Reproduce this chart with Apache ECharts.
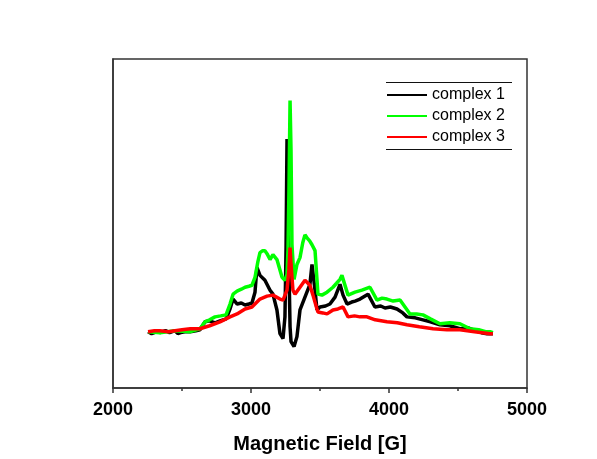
<!DOCTYPE html>
<html>
<head>
<meta charset="utf-8">
<script src="https://cdn.jsdelivr.net/npm/echarts@6/dist/echarts.min.js"></script>
<style>html,body{margin:0;padding:0;background:#fff;}#c{width:597px;height:459px;}</style>
</head>
<body>
<div id="c"></div>
<script>
const seriesNames = ['complex 1', 'complex 2', 'complex 3'];
const seriesColors = ['#000000', '#00ff00', '#ff0000'];
const xTicks = [2000, 3000, 4000, 5000];

// complex 1 (black): field [G], intensity [a.u.]
const field1 = [2254,2280,2300,2320,2340,2360,2380,2410,2450,2470,2490,2520,2560,2600,2630,2667,2700,2740,2775,2820,2848,2870,2900,2930,2957,2985,3007,3029,3043,3065,3101,3138,3159,3188,3210,3232,3246,3254,3261,3268,3275,3283,3290,3312,3333,3355,3391,3427,3442,3464,3478,3500,3540,3572,3609,3645,3667,3696,3730,3754,3790,3848,3898,3940,3971,4010,4058,4100,4130,4190,4246,4300,4369,4440,4514,4570,4623,4670,4710,4753];
const int1   = [57,55,56,58,56,57,58,56,58,55,56,57,57,58,59,67,68,66,68,70,80,90,85,86,84,85,86,97,122,114,109,99,95,79,55,50,72,142,252,212,122,62,47,42,52,79,92,105,125,99,79,82,83,85,92,105,94,85,87,88,90,95,82,83,81,82,80,76,72,71,69,67,64,63,60,61,58,56,55,55];

// complex 2 (green)
const field2 = [2254,2340,2450,2560,2630,2667,2700,2739,2780,2819,2848,2870,2899,2930,2957,2985,3007,3029,3050,3065,3085,3101,3116,3138,3159,3188,3225,3246,3261,3268,3275,3283,3290,3297,3312,3333,3355,3375,3391,3406,3425,3442,3464,3478,3485,3514,3551,3594,3620,3645,3659,3703,3754,3804,3862,3913,3950,3985,4030,4080,4152,4200,4246,4300,4369,4440,4514,4587,4650,4700,4732,4753];
const int2   = [57,56,58,57,60,67,69,72,73,74,85,95,98,100,102,103,104,112,128,137,139,139,136,130,135,130,112,109,115,140,200,291,240,145,110,125,132,147,155,152,149,145,139,110,95,94,97,102,106,110,114,94,97,99,102,89,91,90,88,89,75,75,74,70,65,66,65,60,59,57,57,56];

// complex 3 (red)
const field3 = [2254,2300,2340,2400,2450,2500,2560,2630,2700,2775,2848,2899,2957,3007,3065,3116,3159,3210,3232,3261,3275,3283,3290,3304,3319,3355,3391,3427,3449,3478,3485,3520,3551,3594,3630,3667,3703,3750,3790,3840,3900,3985,4060,4130,4220,4319,4420,4514,4620,4732,4753];
const int3   = [57,58,58,57,58,59,60,60,63,67,72,75,80,82,90,93,94,90,89,99,120,142,125,99,95,102,109,104,94,80,77,76,75,79,80,82,72,73,72,72,69,67,66,64,62,60,59,59,57,55,55];

const fields = [field1, field2, field3];
const ints = [int1, int2, int3];

const chart = echarts.init(document.getElementById('c'));
const series = seriesNames.map((n, i) => ({
  name: n,
  type: 'line',
  symbol: 'none',
  data: fields[i].map((x, k) => [x, ints[i][k]]),
  lineStyle: { color: seriesColors[i], width: 3.5 },
  itemStyle: { color: seriesColors[i] },
  z: 2 + i
}));

chart.setOption({
  animation: false,
  backgroundColor: '#ffffff',
  grid: { left: 113, right: 70, top: 59, bottom: 67, show: true, borderColor: '#333', borderWidth: 1.5, backgroundColor: 'transparent' },
  xAxis: {
    type: 'value', min: xTicks[0], max: xTicks[xTicks.length - 1], interval: 1000,
    axisLine: { show: true, lineStyle: { color: '#333', width: 1.5 } },
    axisTick: { show: true, inside: false, length: 5, lineStyle: { color: '#333', width: 1.5 } },
    minorTick: { show: true, splitNumber: 2, length: 3, lineStyle: { color: '#333', width: 1.5 } },
    splitLine: { show: false },
    axisLabel: { color: '#000', fontSize: 18, fontWeight: 'bold', fontFamily: 'Arial, Liberation Sans', margin: 13,
      formatter: v => String(v) },
    name: 'Magnetic Field [G]', nameLocation: 'middle', nameGap: 46,
    nameTextStyle: { color: '#000', fontSize: 20, fontWeight: 'bold', fontFamily: 'Arial, Liberation Sans' }
  },
  yAxis: {
    type: 'value', min: 0, max: 333,
    axisLine: { show: true, lineStyle: { color: '#333', width: 1.5 } },
    axisTick: { show: false }, axisLabel: { show: false }, splitLine: { show: false }
  },
  legend: {
    orient: 'vertical', left: 382, top: 82,
    icon: 'rect',
    itemWidth: 40, itemHeight: 2, itemGap: 5,
    textStyle: { color: '#000', fontSize: 16, fontFamily: 'Arial, Liberation Sans' },
    data: seriesNames
  },
  graphic: [
    { type: 'line', shape: { x1: 386, y1: 82.5, x2: 512, y2: 82.5 }, style: { stroke: '#111', lineWidth: 1 } },
    { type: 'line', shape: { x1: 386, y1: 149.5, x2: 512, y2: 149.5 }, style: { stroke: '#111', lineWidth: 1 } }
  ],
  series: series
});
</script>
</body>
</html>
